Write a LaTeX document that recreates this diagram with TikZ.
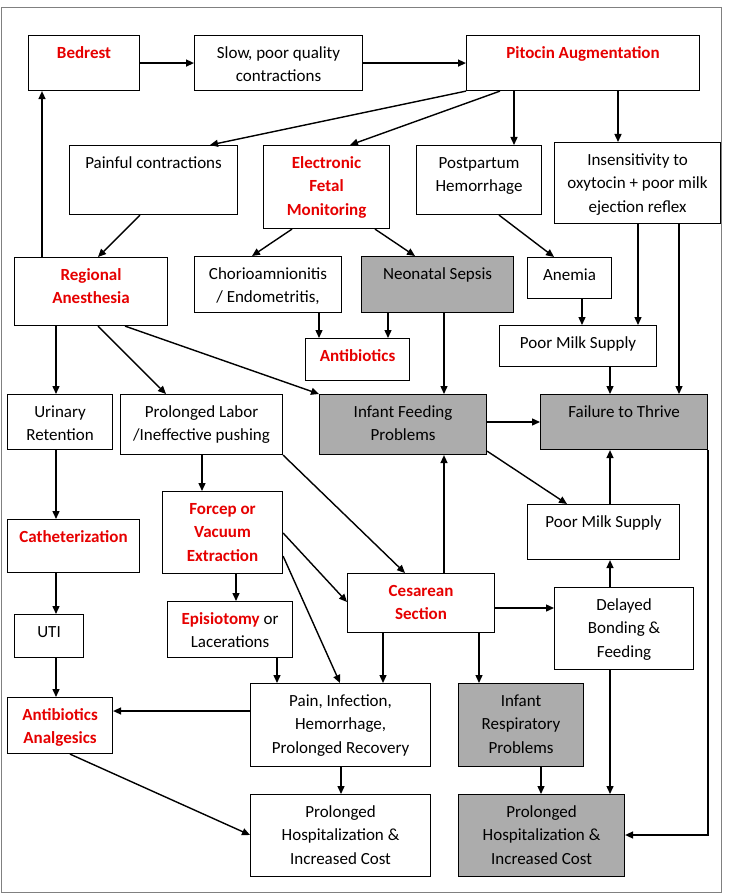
\documentclass[tikz,border=0pt]{standalone}
\usepackage{fontspec}
\setmainfont{Carlito}
\usepackage{tikz}
\usetikzlibrary{arrows.meta}

\definecolor{alertred}{RGB}{230,0,0}
\definecolor{boxgray}{RGB}{172,172,172}
\newcommand{\redbf}{\color{alertred}\bfseries}
\newcommand{\flowtext}[3]{\parbox[c][#2][t]{#1}{\fontsize{17pt}{23.5pt}\selectfont\centering\rule{0pt}{22.5pt}#3}}

\begin{document}
\begin{tikzpicture}[x=1pt, y=-1pt,
  box/.style={draw, line width=1.1pt, inner sep=0pt, fill=white, anchor=north west},
  graybox/.style={box, fill=boxgray},
  arr/.style={-{Triangle[length=8pt,width=7pt]}, line width=1.4pt}]
\useasboundingbox (0,0) rectangle (728,896);
\fill[white] (0,0) rectangle (728,896);
\draw[gray, line width=0.9pt] (1,7) rectangle (721,892);

% top row
\node[box] (bed) at (28,35) {\flowtext{111pt}{55pt}{\redbf Bedrest}};
\node[box] (slow) at (194,35) {\flowtext{168pt}{55pt}{Slow, poor quality\\contractions}};
\node[box] (pito) at (466,35) {\flowtext{233pt}{55pt}{\redbf Pitocin Augmentation}};

% second row
\node[box] (pain) at (69,145) {\flowtext{168pt}{69pt}{Painful contractions}};
\node[box] (efm) at (263,145) {\flowtext{126pt}{83pt}{\redbf Electronic\\Fetal\\Monitoring}};
\node[box] (pph) at (416,145) {\flowtext{125pt}{69pt}{Postpartum\\Hemorrhage}};
\node[box] (insens) at (554,142) {\flowtext{166pt}{81pt}{Insensitivity to\\oxytocin + poor milk\\ejection reflex}};

% third row
\node[box] (regan) at (14,257) {\flowtext{153pt}{68pt}{\redbf Regional\\Anesthesia}};
\node[box] (chorio) at (194,256) {\flowtext{147pt}{56pt}{Chorioamnionitis\\/ Endometritis,}};
\node[graybox] (sepsis) at (361,256) {\flowtext{152pt}{56pt}{Neonatal Sepsis}};
\node[box] (anemia) at (527,257) {\flowtext{84pt}{41pt}{Anemia}};
\node[box] (antib) at (305,338) {\flowtext{104pt}{42pt}{\redbf Antibiotics}};
\node[box] (milk1) at (499,325) {\flowtext{157pt}{41pt}{Poor Milk Supply}};

% middle
\node[box] (urin) at (7,394) {\flowtext{105pt}{55pt}{Urinary\\Retention}};
\node[box] (prolab) at (120,394) {\flowtext{162pt}{60pt}{Prolonged Labor\\/Ineffective pushing}};
\node[graybox] (feed) at (319,394) {\flowtext{167pt}{60pt}{Infant Feeding\\Problems}};
\node[graybox] (ftt) at (540,394) {\flowtext{167pt}{55pt}{Failure to Thrive}};
\node[box] (milk2) at (527,504) {\flowtext{152pt}{55pt}{Poor Milk Supply}};
\node[box] (forcep) at (162,491) {\flowtext{120pt}{82pt}{\redbf Forcep or\\Vacuum\\Extraction}};
\node[box] (cath) at (7,519) {\flowtext{132pt}{53pt}{\redbf Catheterization}};
\node[box] (cesar) at (347,573) {\flowtext{147pt}{59pt}{\redbf Cesarean\\Section}};
\node[box] (delay) at (554,587) {\flowtext{139pt}{82pt}{Delayed\\Bonding \&\\Feeding}};

% lower rows
\node[box] (uti) at (14,614) {\flowtext{69pt}{43pt}{UTI}};
\node[box] (episio) at (167,601) {\flowtext{125pt}{56pt}{{\redbf Episiotomy} or\\Lacerations}};
\node[box] (antan) at (7,697) {\flowtext{105pt}{56pt}{\redbf Antibiotics\\Analgesics}};
\node[box] (painf) at (250,683) {\flowtext{180pt}{83pt}{Pain, Infection,\\Hemorrhage,\\Prolonged Recovery}};
\node[graybox] (resp) at (458,683) {\flowtext{125pt}{83pt}{Infant\\Respiratory\\Problems}};
\node[box] (hosp1) at (250,794) {\flowtext{180pt}{82pt}{Prolonged\\Hospitalization \&\\Increased Cost}};
\node[graybox] (hosp2) at (458,794) {\flowtext{166pt}{82pt}{Prolonged\\Hospitalization \&\\Increased Cost}};

% connectors
\draw[arr] (bed) -- (slow);
\draw[arr] (slow) -- (pito);
\draw[arr] (pito.south west) -- ([xshift=141pt]pain.north west);
\draw[arr] ([xshift=34pt]pito.south west) -- ([xshift=87pt]efm.north west);
\draw[arr] ([xshift=48pt]pito.south west) -- ([xshift=98pt]pph.north west);
\draw[arr] ([xshift=152pt]pito.south west) -- ([xshift=64pt]insens.north west);
\draw[arr] ([xshift=71pt]pain.south west) -- ([xshift=84pt]regan.north west);
\draw[arr] ([xshift=28pt]regan.north west) -- ([xshift=14pt]bed.south west);
\draw[arr] ([xshift=29pt]efm.south west) -- ([xshift=58pt]chorio.north west);
\draw[arr] ([xshift=112pt]efm.south west) -- ([xshift=54pt]sepsis.north west);
\draw[arr] ([xshift=83pt]pph.south west) -- ([xshift=27pt]anemia.north west);
\draw[arr] ([xshift=84pt]insens.south west) -- ([xshift=139pt]milk1.north west);
\draw[arr] ([xshift=125pt]insens.south west) -- ([xshift=139pt]ftt.north west);
\draw[arr] ([xshift=55pt]anemia.south west) -- ([xshift=83pt]milk1.north west);
\draw[arr] ([xshift=125pt]chorio.south west) -- ([xshift=14pt]antib.north west);
\draw[arr] ([xshift=27pt]sepsis.south west) -- ([xshift=83pt]antib.north west);
\draw[arr] ([xshift=83pt]sepsis.south west) -- ([xshift=125pt]feed.north west);
\draw[arr] ([xshift=42pt]regan.south west) -- ([xshift=49pt]urin.north west);
\draw[arr] ([xshift=84pt]regan.south west) -- ([xshift=46pt]prolab.north west);
\draw[arr] ([xshift=111pt]regan.south west) -- (feed.north west);
\draw[arr] ([xshift=111pt]milk1.south west) -- ([xshift=70pt]ftt.north west);
\draw[arr] ([yshift=-28pt]feed.north east) -- ([yshift=-28pt]ftt.north west);
\draw[arr] ([yshift=4pt]feed.south east) -- ([xshift=40pt]milk2.north west);
\draw[arr] ([xshift=83pt]milk2.north west) -- ([xshift=70pt]ftt.south west);
\draw[arr] ([xshift=56pt]delay.north west) -- ([xshift=83pt]milk2.south west);
\draw[arr] (ftt.south east) |- ([yshift=-41pt]hosp2.north east);
\draw[arr] ([xshift=49pt]urin.south west) -- ([xshift=49pt]cath.north west);
\draw[arr] ([xshift=82pt]prolab.south west) -- ([xshift=40pt]forcep.north west);
\draw[arr] (prolab.south east) -- ([xshift=58pt]cesar.north west);
\draw[arr] ([xshift=97pt]cesar.north west) -- ([xshift=125pt]feed.south west);
\draw[arr] ([yshift=-42pt]forcep.north east) -- ([yshift=-29pt]cesar.north west);
\draw[arr] ([yshift=18pt]forcep.south east) -- ([xshift=90pt]painf.north west);
\draw[arr] ([xshift=74pt]forcep.south west) -- ([xshift=69pt]episio.north west);
\draw[arr] ([yshift=-35pt]cesar.north east) -- ([yshift=-21pt]delay.north west);
\draw[arr] ([xshift=36pt]cesar.south west) -- ([xshift=133pt]painf.north west);
\draw[arr] ([xshift=132pt]cesar.south west) -- ([xshift=21pt]resp.north west);
\draw[arr] ([xshift=49pt]cath.south west) -- ([xshift=42pt]uti.north west);
\draw[arr] ([xshift=42pt]uti.south west) -- ([xshift=49pt]antan.north west);
\draw[arr] ([xshift=110pt]episio.south west) -- ([xshift=27pt]painf.north west);
\draw[arr] ([yshift=-28pt]painf.north west) -- ([yshift=-14pt]antan.north east);
\draw[arr] ([xshift=63pt]antan.south west) -- ([yshift=-41pt]hosp1.north west);
\draw[arr] ([xshift=91pt]painf.south west) -- ([xshift=91pt]hosp1.north west);
\draw[arr] ([xshift=83pt]resp.south west) -- ([xshift=83pt]hosp2.north west);
\draw[arr] ([xshift=56pt]delay.south west) -- ([xshift=152pt]hosp2.north west);
\end{tikzpicture}
\end{document}
